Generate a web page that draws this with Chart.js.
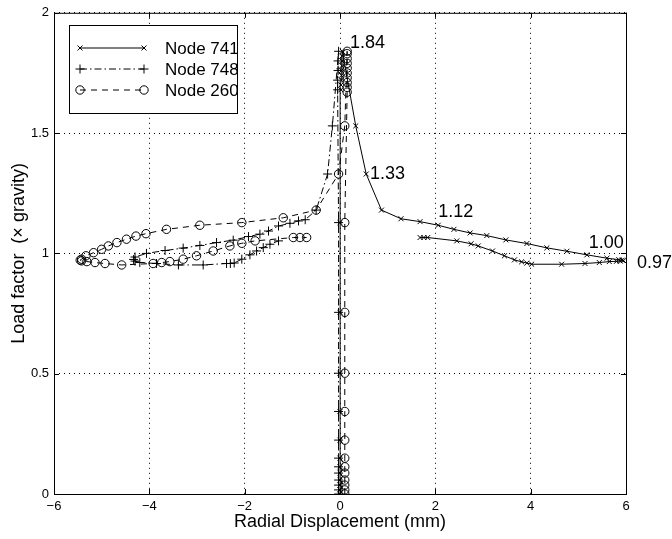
<!DOCTYPE html>
<html>
<head>
<meta charset="utf-8">
<script src="https://cdn.jsdelivr.net/npm/chart.js@4"></script>
<style>
  html, body { margin: 0; padding: 0; background: #fff; }
  #wrap { width: 672px; height: 539px; }
</style>
</head>
<body>
<div id="wrap"><canvas id="chart" width="672" height="539"></canvas></div>
<script>
// --- Datos ---
const node741X = [0, 0, 0, 0, 0, 0, 0, 0, 0, 0, 0, 0,
  0.02, 0.02, 0.03, 0.03, 0.03, 0.04, 0.04, 0.04, 0.05,
  0.33, 0.55, 0.87, 1.28, 1.68, 2.06, 2.39, 2.73, 3.08, 3.48, 3.92, 4.34, 4.76, 5.18, 5.60, 5.85, 5.92, 5.95,
  5.88, 5.80, 5.65, 5.44, 5.14, 4.65, 4.02, 3.92, 3.81, 3.66, 3.45, 3.20, 2.90, 2.75, 2.45, 1.84, 1.76, 1.68];
const node741Y = [0, 0.017, 0.037, 0.058, 0.087, 0.113, 0.149, 0.224, 0.343, 0.502, 0.755, 1.128,
  1.68, 1.70, 1.72, 1.74, 1.76, 1.78, 1.80, 1.82, 1.84,
  1.53, 1.33, 1.18, 1.144, 1.132, 1.117, 1.10, 1.085, 1.074, 1.056, 1.041, 1.023, 1.009, 0.994, 0.980, 0.974, 0.972, 0.970,
  0.968, 0.967, 0.966, 0.962, 0.958, 0.955, 0.955, 0.960, 0.965, 0.973, 0.990, 1.010, 1.031, 1.040, 1.052, 1.066, 1.066, 1.066];

const node748X = [-0.03, -0.03, -0.03, -0.03, -0.03, -0.03, -0.03, -0.03, -0.03, -0.03, -0.03, -0.03,
  -0.05, -0.05, -0.04, -0.04, -0.03,
  -0.16, -0.26, -0.50, -0.73, -0.87, -1.05, -1.29, -1.50, -1.68, -1.92, -2.24, -2.59, -2.94, -3.29, -3.67, -4.06, -4.30, -4.33, -4.30,
  -4.20, -3.85, -3.39, -2.87, -2.38, -2.30, -2.22, -2.06, -1.89, -1.75, -1.61, -1.47, -1.29];
const node748Y = [0, 0.017, 0.037, 0.058, 0.087, 0.113, 0.149, 0.224, 0.343, 0.502, 0.755, 1.128,
  1.68, 1.72, 1.76, 1.80, 1.84,
  1.53, 1.33, 1.18, 1.14, 1.135, 1.125, 1.114, 1.093, 1.08, 1.07, 1.055, 1.045, 1.033, 1.022, 1.012, 1.0, 0.985, 0.975, 0.968,
  0.962, 0.958, 0.952, 0.952, 0.958, 0.958, 0.960, 0.976, 0.994, 1.010, 1.024, 1.038, 1.052];

const node260X = [0.1, 0.1, 0.1, 0.1, 0.1, 0.1, 0.1, 0.1, 0.1, 0.1, 0.1, 0.1,
  0.15, 0.15, 0.15, 0.15, 0.15, 0.15, 0.15, 0.15, 0.15, 0.15,
  0.1, -0.03, -0.50, -1.19, -2.06, -2.94, -3.64, -4.07, -4.28, -4.48, -4.68, -4.86, -5.0, -5.17, -5.33, -5.42, -5.45, -5.42,
  -5.31, -5.14, -4.93, -4.58, -3.92, -3.74, -3.57, -3.29, -3.01, -2.66, -2.31, -2.06, -1.78, -0.98, -0.84, -0.70];
const node260Y = [0, 0.017, 0.037, 0.058, 0.087, 0.113, 0.149, 0.224, 0.343, 0.502, 0.755, 1.128,
  1.67, 1.69, 1.71, 1.73, 1.75, 1.77, 1.79, 1.81, 1.83, 1.84,
  1.53, 1.33, 1.18, 1.148, 1.128, 1.117, 1.10, 1.082, 1.072, 1.059, 1.045, 1.031, 1.017, 1.003, 0.99, 0.976, 0.972, 0.969,
  0.966, 0.962, 0.958, 0.952, 0.958, 0.962, 0.966, 0.976, 0.99, 1.01, 1.031, 1.042, 1.052, 1.066, 1.066, 1.066];

const seriesNames = ["Node 741", "Node 748", "Node 260"];

// etiquetas de valores sobre la curva
const noteText = ["1.84", "1.33", "1.12", "1.00", "0.97"];
const noteX = [0.21, 0.63, 2.06, 5.22, 6.23];
const noteY = [1.873, 1.33, 1.173, 1.045, 0.959];

const xTicks = [-6, -4, -2, 0, 2, 4, 6];
const yTicks = [0, 0.5, 1, 1.5, 2];

const FONT = '"Liberation Sans", Arial, Helvetica, sans-serif';

function toPoints(xs, ys) {
  return xs.map((x, i) => ({ x: x, y: ys[i] }));
}

const styles = [
  { dash: [], pointStyle: "crossRot", radius: 3.5 },
  { dash: [7, 3, 1.5, 3], pointStyle: "cross", radius: 4.5 },
  { dash: [6, 5], pointStyle: "circle", radius: 4.2 }
];

// --- Plugin: caja, marcas, etiquetas y leyenda estilo MATLAB ---
const extras = {
  id: "extras",
  afterDraw(chart) {
    const { ctx, chartArea: a, scales: { x, y } } = chart;
    ctx.save();
    ctx.strokeStyle = "#000";
    ctx.lineWidth = 1;
    ctx.setLineDash([]);
    ctx.strokeRect(a.left + 0.5, a.top + 0.5, a.right - a.left, a.bottom - a.top);

    // marcas hacia adentro
    ctx.beginPath();
    xTicks.forEach(v => {
      const px = Math.round(x.getPixelForValue(v)) + 0.5;
      ctx.moveTo(px, a.bottom); ctx.lineTo(px, a.bottom - 5);
      ctx.moveTo(px, a.top); ctx.lineTo(px, a.top + 5);
    });
    yTicks.forEach(v => {
      const py = Math.round(y.getPixelForValue(v)) + 0.5;
      ctx.moveTo(a.left, py); ctx.lineTo(a.left + 5, py);
      ctx.moveTo(a.right, py); ctx.lineTo(a.right - 5, py);
    });
    ctx.stroke();

    // valores
    ctx.fillStyle = "#000";
    ctx.font = "18px " + FONT;
    ctx.textBaseline = "middle";
    ctx.textAlign = "left";
    noteText.forEach((t, i) => {
      ctx.fillText(t, x.getPixelForValue(noteX[i]), y.getPixelForValue(noteY[i]));
    });

    // leyenda
    const lx = 69, ly = 25, lw = 168, lh = 88;
    ctx.fillStyle = "#fff";
    ctx.fillRect(lx, ly, lw, lh);
    ctx.strokeRect(lx + 0.5, ly + 0.5, lw, lh);
    ctx.font = "17px " + FONT;
    seriesNames.forEach((name, i) => {
      const yy = 48 + i * 21;
      const st = styles[i];
      ctx.beginPath();
      ctx.setLineDash(st.dash);
      ctx.moveTo(80, yy); ctx.lineTo(144, yy);
      ctx.stroke();
      ctx.setLineDash([]);
      ctx.fillStyle = "rgba(0,0,0,0)";
      [80, 144].forEach(px => {
        Chart.helpers.drawPoint(ctx, { pointStyle: st.pointStyle, radius: st.radius, borderWidth: 1, rotation: 0 }, px, yy);
      });
      ctx.fillStyle = "#000";
      ctx.fillText(name, 165, yy + 1);
    });
    ctx.restore();
  }
};

const datasets = [
  toPoints(node741X, node741Y),
  toPoints(node748X, node748Y),
  toPoints(node260X, node260Y)
].map((pts, i) => ({
  label: seriesNames[i],
  data: pts,
  showLine: true,
  borderColor: "#000",
  borderWidth: 1,
  borderDash: styles[i].dash,
  pointStyle: styles[i].pointStyle,
  pointRadius: styles[i].radius,
  pointBorderColor: "#000",
  pointBackgroundColor: "rgba(0,0,0,0)",
  pointBorderWidth: 1,
  tension: 0
}));

new Chart(document.getElementById("chart").getContext("2d"), {
  type: "scatter",
  data: { datasets: datasets },
  options: {
    responsive: false,
    animation: false,
    layout: { padding: { left: 0, right: 46, top: 11, bottom: 0 } },
    plugins: { legend: { display: false }, tooltip: { enabled: false } },
    scales: {
      x: {
        type: "linear",
        min: -6, max: 6,
        afterFit: s => { s.height = 45; },
        afterBuildTicks: s => { s.ticks = xTicks.map(v => ({ value: v })); },
        ticks: {
          color: "#000", font: { size: 13, family: FONT }, padding: 5,
          callback: v => String(v).replace("-", "\u2212")
        },
        grid: { color: "#000", lineWidth: 1, drawTicks: false },
        border: { display: false, dash: [1, 4] },
        title: { display: true, text: "Radial Displacement (mm)", color: "#000",
          font: { size: 18, family: FONT }, padding: { top: 0, bottom: 6 } }
      },
      y: {
        type: "linear",
        min: 0, max: 2,
        afterFit: s => { s.width = 54; },
        afterBuildTicks: s => { s.ticks = yTicks.map(v => ({ value: v })); },
        ticks: {
          color: "#000", font: { size: 13, family: FONT }, padding: 5,
          callback: v => String(v)
        },
        grid: { color: "#000", lineWidth: 1, drawTicks: false },
        border: { display: false, dash: [1, 4] },
        title: { display: true, text: "Load factor  (\u00d7 gravity)", color: "#000",
          font: { size: 18, family: FONT }, padding: { top: 8, bottom: 0 } }
      }
    }
  },
  plugins: [extras]
});
</script>
</body>
</html>
